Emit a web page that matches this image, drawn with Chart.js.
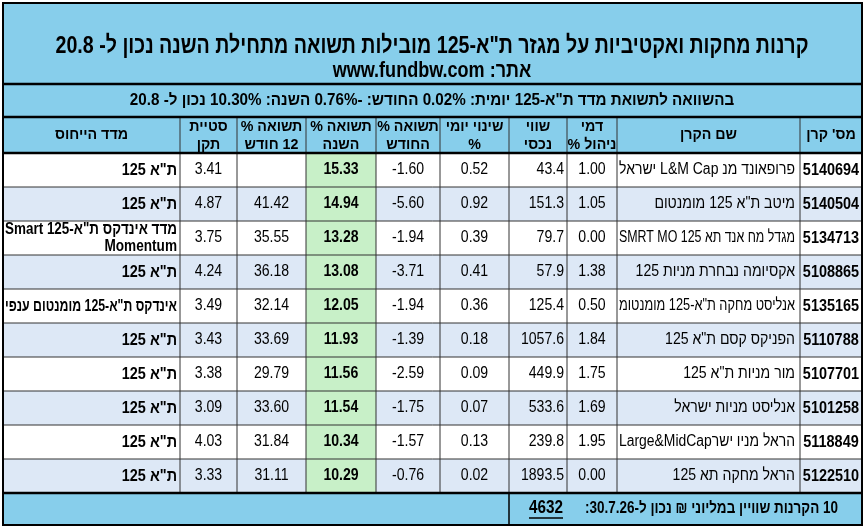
<!DOCTYPE html>
<html><head><meta charset="utf-8">
<script src="https://cdn.jsdelivr.net/npm/chart.js@4"></script>
<style>body{margin:0;background:#fff}canvas{display:block}</style>
</head><body>
<canvas id="tbl" width="865" height="528"></canvas>
<script>
// table data
const ids = ['5140694','5140504','5134713','5108865','5135165','5110788','5107701','5101258','5118849','5122510'];
const names = ['פרופאונד מנ L&M Cap ישראל','מיטב ת"א 125 מומנטום','מגדל מח אנד תא 125 SMRT MO','אקסיומה נבחרת מניות 125','אנליסט מחקה ת"א-125 מומנטומ','הפניקס קסם ת"א 125','מור מניות ת"א 125','אנליסט מניות ישראל','הראל מניו ישרLarge&MidCap','הראל מחקה תא 125'];
const fees = ['1.00','1.05','0.00','1.38','0.50','1.84','1.75','1.69','1.95','0.00'];
const assets = ['43.4','151.3','79.7','57.9','125.4','1057.6','449.9','533.6','239.8','1893.5'];
const daily = ['0.52','0.92','0.39','0.41','0.36','0.18','0.09','0.07','0.13','0.02'];
const month = ['-1.60','-5.60','-1.94','-3.71','-1.94','-1.39','-2.59','-1.75','-1.57','-0.76'];
const ytd = ['15.33','14.94','13.28','13.08','12.05','11.93','11.56','11.54','10.34','10.29'];
const y12 = ['','41.42','35.55','36.18','32.14','33.69','29.79','33.60','31.84','31.11'];
const stdev = ['3.41','4.87','3.75','4.24','3.49','3.43','3.38','3.09','4.03','3.33'];
const bench = [['ת"א 125'],['ת"א 125'],['מדד אינדקס ת"א-125 Smart','Momentum'],['ת"א 125'],['אינדקס ת"א-125 מומנטום ענפי'],['ת"א 125'],['ת"א 125'],['ת"א 125'],['ת"א 125'],['ת"א 125']];
const headers = [["מס' קרן"],['שם הקרן'],['דמי','ניהול %'],['שווי','נכסי'],['שינוי יומי','%'],['תשואה %','החודש'],['תשואה %','השנה'],['תשואה %','12 חודש'],['סטיית','תקן'],['מדד הייחוס']];
const title1 = 'קרנות מחקות ואקטיביות על מגזר ת"א-125 מובילות תשואה מתחילת השנה נכון ל- 20.8';
const title2 = 'אתר: www.fundbw.com';
const subtitle = 'בהשוואה לתשואת מדד ת"א-125 יומית: 0.02% החודש: -0.76% השנה: 10.30% נכון ל- 20.8';
const footerText = '10 הקרנות שוויין במליוני ₪ נכון ל-30.7.26:';
const footerTotal = '4632';

// layout (in scale units == px)
const colEdges = [862,800,617,567,509,440,376,306,237,180,3]; // right to left
const rowTop = 153, rowH = 34;
const F = '"Liberation Sans",Arial,sans-serif';
const BLUE = '#87ceeb', ROWBLUE = '#dde8f6', GREEN = '#c8f0c8';

const tablePlugin = {
  id: 'table',
  afterDraw(chart) {
    const c = chart.ctx, xs = chart.scales.x, ys = chart.scales.y;
    const X = v => xs.getPixelForValue(v), Y = v => ys.getPixelForValue(v);
    const rect = (x0, y0, x1, y1, fill) => { c.fillStyle = fill; c.fillRect(X(x0), Y(y0), X(x1) - X(x0), Y(y1) - Y(y0)); };
    const line = (x0, y0, x1, y1, w, col) => { c.beginPath(); c.lineWidth = w; c.strokeStyle = col || '#000'; c.moveTo(X(x0), Y(y0)); c.lineTo(X(x1), Y(y1)); c.stroke(); };
    // sx = horizontal squeeze, maxW = width to fit into
    const text = (s, x, y, font, align, dir, sx, maxW) => {
      c.save();
      c.font = font; c.textAlign = align; c.direction = dir || 'rtl'; c.textBaseline = 'middle'; c.fillStyle = '#000';
      let k = sx || 0.88;
      if (maxW) k = Math.min(k, maxW / c.measureText(s).width);
      c.translate(X(x), Y(y)); c.scale(k, 1); c.fillText(s, 0, 0);
      c.restore();
    };
    const L = 3, R = 862;
    // bands
    rect(L, 3, R, 84, BLUE);
    rect(L, 84, R, 117, BLUE);
    rect(L, 117, R, rowTop, BLUE);
    rect(L, rowTop + 10 * rowH, R, 525, BLUE);
    for (let i = 0; i < ids.length; i++) {
      const t = rowTop + i * rowH;
      rect(L, t, R, t + rowH, i % 2 ? ROWBLUE : '#fff');
      rect(colEdges[7], t, colEdges[6], t + rowH, GREEN);
    }
    text(title1, 432, 46, 'bold 24px ' + F, 'center', 'rtl', 1, 753);
    text(title2, 432, 71, 'bold 22px ' + F, 'center', 'rtl', 0.82);
    text(subtitle, 432, 101, 'bold 16px ' + F, 'center', 'rtl', 0.95);
    // headers
    headers.forEach((h, k) => {
      const cx = (colEdges[k] + colEdges[k + 1]) / 2;
      if (h.length === 1) text(h[0], cx, 135, 'bold 15px ' + F, 'center', 'rtl', 0.95);
      else { text(h[0], cx, 127, 'bold 15px ' + F, 'center', 'rtl', 0.95); text(h[1], cx, 145, 'bold 15px ' + F, 'center', 'rtl', 0.95); }
    });
    // rows
    const cols = [ids, names, fees, assets, daily, month, ytd, y12, stdev];
    for (let i = 0; i < ids.length; i++) {
      const cy = rowTop + i * rowH + rowH / 2;
      cols.forEach((arr, k) => {
        const r = colEdges[k], l = colEdges[k + 1], cx = (r + l) / 2;
        if (k === 0) text(arr[i], cx, cy, 'bold 17px ' + F, 'center', 'ltr', 0.85);
        else if (k === 1) text(arr[i], r - 5, cy, '16px ' + F, 'right', 'rtl', 0.88, 176);
        else if (k === 3) text(arr[i], r - 3, cy, '16px ' + F, 'right', 'ltr');
        else if (k === 6) text(arr[i], cx, cy, 'bold 16px ' + F, 'center', 'ltr');
        else text(arr[i], cx, cy, '16px ' + F, 'center', 'ltr');
      });
      const b = bench[i];
      if (b.length === 1) text(b[0], colEdges[9] - 3, cy, 'bold 17px ' + F, 'right', 'rtl', 0.85, 172);
      else {
        text(b[0], colEdges[9] - 3, cy - 8, 'bold 16px ' + F, 'right', 'rtl', 0.85, 172);
        text(b[1], colEdges[9] - 3, cy + 9, 'bold 16px ' + F, 'right', 'rtl', 0.85);
      }
    }
    // grid
    const bot = rowTop + 10 * rowH;
    for (let i = 1; i < 10; i++) line(L, rowTop + i * rowH, R, rowTop + i * rowH, 1, '#333');
    colEdges.slice(1, -1).forEach(x => line(x, 117, x, bot, 1, '#333'));
    [84, 117, rowTop, bot].forEach(y => line(L, y, R, y, 2.5));
    line(509, bot, 509, 525, 1.5);
    // footer
    text(footerText, 838, 509, 'bold 16px ' + F, 'right', 'rtl', 0.9, 253);
    c.font = 'bold 18px ' + F;
    const w = c.measureText(footerTotal).width * 0.85;
    text(footerTotal, 563, 508, 'bold 18px ' + F, 'right', 'ltr', 0.85);
    line(563 - w, 518, 563, 518, 1.5);
    // outer border
    c.lineWidth = 2; c.strokeStyle = '#000';
    c.strokeRect(X(L), Y(3), X(R) - X(L), Y(525) - Y(3));
  }
};

new Chart(document.getElementById('tbl'), {
  type: 'scatter',
  data: { datasets: [{ data: [], pointRadius: 0 }] },
  options: {
    responsive: false, animation: false, devicePixelRatio: 1,
    layout: { padding: 0 },
    plugins: { legend: { display: false }, tooltip: { enabled: false } },
    scales: {
      x: { type: 'linear', min: 0, max: 865, display: false },
      y: { type: 'linear', min: 0, max: 528, reverse: true, display: false }
    }
  },
  plugins: [tablePlugin]
});
</script>
</body></html>
